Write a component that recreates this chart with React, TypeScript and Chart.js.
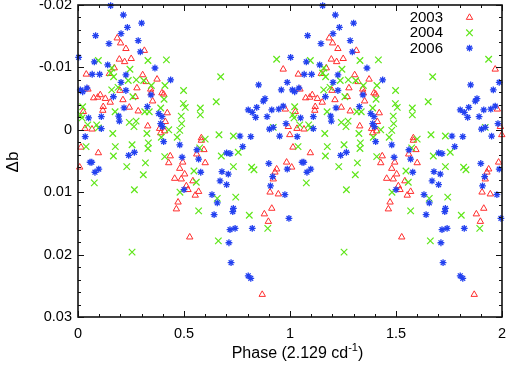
import React, { useEffect, useRef } from 'react';
import { Chart, registerables } from 'chart.js';
import { drawPoint } from 'chart.js/helpers';

Chart.register(...registerables);

// ---- data (phase in [0,1), Δb in mag) ----
const seriesLabels = ['2003', '2004', '2006'];
const seriesColors = ['rgb(255,45,45)', 'rgb(95,230,25)', 'rgb(35,65,240)'];
const seriesStyles = ['triangle', 'crossRot', 'star'];
const seriesRadius = [3.7, 4.6, 3.4];
const seriesLineWidth = [1, 1.2, 1.3];

const points2003: [number, number][] = [
  [0.185, -0.0147], [0.201, -0.0139], [0.226, -0.0130], [0.313, -0.0127], [0.195, -0.0113],
  [0.220, -0.0109], [0.251, -0.0114], [0.171, -0.0099], [0.148, -0.0090], [0.039, -0.0089],
  [0.305, -0.0088], [0.321, -0.0077], [0.278, -0.0067], [0.047, -0.0065], [0.105, -0.0056],
  [0.093, -0.0052], [0.074, -0.0051], [0.129, -0.0050], [0.198, -0.0063], [0.270, -0.0053],
  [0.212, -0.0048], [0.152, -0.0044], [0.119, -0.0037], [0.117, -0.0031], [0.242, -0.0036],
  [0.284, -0.0030], [0.329, -0.0006], [0.066, -0.0001], [0.033, -0.0002], [0.096, 0.0037],
  [0.014, 0.0028], [0.008, 0.0060], [0.025, -0.0029],
  [0.373, -0.0081], [0.343, -0.0065], [0.346, -0.0059], [0.396, -0.0059], [0.404, -0.0057],
  [0.352, -0.0046], [0.421, -0.0027], [0.412, -0.0013], [0.385, -0.0002], [0.409, 0.0002],
  [0.390, 0.0005], [0.582, 0.0013], [0.582, 0.0017], [0.594, 0.0032], [0.560, 0.0039],
  [0.435, 0.0042], [0.428, 0.0053], [0.494, 0.0052], [0.600, 0.0053],
  [0.968, -0.0097], [0.978, -0.0033], [0.992, -0.0005], [0.999, 0.0008], [0.984, 0.0052],
  [0.480, 0.0062], [0.503, 0.0071], [0.456, 0.0078], [0.487, 0.0079], [0.511, 0.0090],
  [0.519, 0.0096], [0.542, 0.0082], [0.569, 0.0099], [0.553, 0.0105], [0.472, 0.0116],
  [0.464, 0.0127], [0.527, 0.0172],
  [0.937, 0.0063], [0.929, 0.0068], [0.921, 0.0079], [0.906, 0.0100], [0.945, 0.0103],
  [0.914, 0.0126], [0.879, 0.0135], [0.898, 0.0147], [0.869, 0.0264],
];

const points2004: [number, number][] = [
  [0.096, -0.0111], [0.330, -0.0111], [0.160, -0.0099], [0.245, -0.0097], [0.168, -0.0085],
  [0.154, -0.0091], [0.237, -0.0079], [0.275, -0.0080], [0.310, -0.0079], [0.346, -0.0071],
  [0.159, -0.0064], [0.189, -0.0068], [0.259, -0.0053], [0.022, -0.0037], [0.013, -0.0024],
  [0.175, -0.0029], [0.315, -0.0029], [0.336, -0.0029], [0.019, -0.0019], [0.242, -0.0012],
  [0.274, -0.0014], [0.264, -0.0005], [0.088, -0.0008], [0.046, -0.0008], [0.096, -0.0003],
  [0.164, 0.0006], [0.325, 0.0006], [0.038, 0.0027], [0.176, 0.0027], [0.255, 0.0024],
  [0.332, 0.0021], [0.330, 0.0030], [0.167, 0.0042], [0.318, 0.0053], [0.230, 0.0059],
  [0.308, 0.0072],
  [0.417, -0.0112], [0.673, -0.0085], [0.410, -0.0071], [0.498, -0.0063], [0.406, -0.0049],
  [0.497, -0.0042], [0.506, -0.0036], [0.652, -0.0045], [0.577, -0.0035], [0.577, -0.0024],
  [0.390, -0.0035], [0.487, -0.0022], [0.489, -0.0010], [0.428, 0.0000], [0.480, 0.0001],
  [0.468, 0.0012], [0.393, 0.0012], [0.665, 0.0008], [0.600, 0.0015], [0.574, 0.0029],
  [0.409, 0.0043], [0.676, 0.0042],
  [0.937, -0.0113], [0.921, -0.0004], [0.733, 0.0010], [0.756, 0.0036],
  [0.077, 0.0085], [0.266, 0.0096], [0.255, 0.0196],
  [0.547, 0.0066], [0.558, 0.0084], [0.481, 0.0100], [0.569, 0.0130], [0.662, 0.0178],
  [0.657, 0.0110],
  [0.733, 0.0059], [0.819, 0.0060], [0.830, 0.0064], [0.744, 0.0108], [0.808, 0.0137],
  [0.895, 0.0158],
];

const points2006: [number, number][] = [
  [0.154, -0.0199], [0.214, -0.0184], [0.233, -0.0164], [0.300, -0.0171], [0.083, -0.0151],
  [0.203, -0.0154], [0.146, -0.0138], [0.284, -0.0143], [0.294, -0.0125], [0.003, -0.0116],
  [0.077, -0.0109], [0.140, -0.0104], [0.067, -0.0089], [0.102, -0.0089], [0.226, -0.0088],
  [0.203, -0.0076], [0.011, -0.0064], [0.022, -0.0061], [0.042, -0.0067], [0.226, -0.0063],
  [0.167, -0.0053], [0.344, -0.0056], [0.217, -0.0035], [0.327, -0.0037], [0.110, -0.0021],
  [0.050, -0.0019], [0.192, -0.0022], [0.195, -0.0014], [0.110, -0.0002], [0.034, 0.0011],
  [0.266, 0.0036], [0.239, 0.0041], [0.057, 0.0052], [0.065, 0.0052],
  [0.363, -0.0099], [0.437, -0.0080], [0.381, -0.0026], [0.396, -0.0021], [0.390, -0.0010],
  [0.398, -0.0005], [0.404, 0.0019], [0.480, 0.0024], [0.561, 0.0032], [0.569, 0.0047],
  [0.491, 0.0044],
  [0.852, -0.0072], [0.987, -0.0076], [0.959, -0.0064], [0.882, -0.0050], [0.874, -0.0046],
  [0.843, -0.0036], [0.968, -0.0038], [0.803, -0.0032], [0.822, -0.0028], [0.914, -0.0032],
  [0.947, -0.0033], [0.838, -0.0020], [0.892, -0.0021], [0.981, -0.0010], [0.903, -0.0001],
  [0.921, -0.0004], [0.764, 0.0010], [0.815, 0.0011], [0.951, 0.0010], [0.777, 0.0027],
  [0.701, 0.0037], [0.717, 0.0038], [0.900, 0.0054],
  [0.080, 0.0068], [0.098, 0.0063],
  [0.579, 0.0068], [0.679, 0.0067], [0.670, 0.0082], [0.500, 0.0096], [0.632, 0.0104],
  [0.657, 0.0117], [0.642, 0.0136],
  [0.709, 0.0071], [0.701, 0.0088], [0.987, 0.0063], [0.918, 0.0075], [0.908, 0.0090],
  [0.976, 0.0104], [0.733, 0.0126], [0.730, 0.0131], [0.741, 0.0158], [0.717, 0.0160],
  [0.822, 0.0158], [0.995, 0.0142], [0.712, 0.0181], [0.722, 0.0213], [0.803, 0.0234],
  [0.815, 0.0238],
];

const xTickLabels = ['0', '0.5', '1', '1.5', '2'];
const yTickLabels = ['-0.02', '-0.01', '0', '0.01', '0.02', '0.03'];
const xTitle = ['Phase (2.129 cd', '-1', ')'];
const yTitle = 'Δb';

const FONT = '"Liberation Sans", Arial, Helvetica, sans-serif';
// canvas is larger than the page and shifted up, so that Chart.js' automatic
// label padding never moves the plot frame
const OY = 30;
const CW = 540;
const CH = 366 + OY;

// phase-folded plot: each cycle shown twice (phase and phase + 1)
function folded(pts: [number, number][]) {
  const out: { x: number; y: number }[] = [];
  for (const [p, v] of pts) {
    out.push({ x: p, y: v });
    out.push({ x: p + 1, y: v });
  }
  return out;
}

const framePlugin = {
  id: 'frameTicks',
  afterDatasetsDraw(chart: any) {
    const { ctx, chartArea: a, scales } = chart;
    const xs = scales.x;
    const ys = scales.y;
    ctx.save();
    ctx.strokeStyle = '#111';
    ctx.lineWidth = 1;
    ctx.beginPath();
    for (let i = 0; i <= 20; i++) {
      const px = Math.round(xs.getPixelForValue(i * 0.1)) + 0.5;
      const len = i % 5 === 0 ? 6 : 3;
      ctx.moveTo(px, a.bottom);
      ctx.lineTo(px, a.bottom - len);
      ctx.moveTo(px, a.top);
      ctx.lineTo(px, a.top + len);
    }
    for (let i = 0; i <= 25; i++) {
      const py = Math.round(ys.getPixelForValue(-0.02 + i * 0.002)) + 0.5;
      const len = i % 5 === 0 ? 6 : 3;
      ctx.moveTo(a.left, py);
      ctx.lineTo(a.left + len, py);
      ctx.moveTo(a.right, py);
      ctx.lineTo(a.right - len, py);
    }
    ctx.stroke();
    ctx.lineWidth = 1.6;
    ctx.strokeRect(a.left, a.top, a.right - a.left, a.bottom - a.top);

    // legend (markers on the right of the labels)
    chart.data.datasets.forEach((ds: any, i: number) => {
      const y = OY + 17.5 + 15.3 * i;
      ctx.fillStyle = '#000';
      ctx.font = `15px ${FONT}`;
      ctx.textAlign = 'right';
      ctx.textBaseline = 'middle';
      ctx.fillText(ds.label, 443, y + 0.5);
      ctx.strokeStyle = ds.borderColor;
      ctx.fillStyle = 'rgba(0,0,0,0)';
      ctx.lineWidth = ds.borderWidth;
      drawPoint(ctx, { pointStyle: ds.pointStyle, radius: ds.pointRadius, borderWidth: ds.borderWidth, rotation: 0 } as any, 469.5, y);
    });

    // axis titles
    ctx.fillStyle = '#000';
    ctx.textBaseline = 'middle';
    ctx.textAlign = 'left';
    ctx.font = `16px ${FONT}`;
    const w0 = ctx.measureText(xTitle[0]).width;
    ctx.font = `11px ${FONT}`;
    const w1 = ctx.measureText(xTitle[1]).width;
    ctx.font = `16px ${FONT}`;
    const w2 = ctx.measureText(xTitle[2]).width;
    const total = w0 + w1 + w2;
    const x0 = 297.5 - total / 2;
    const ty = OY + 354;
    ctx.fillText(xTitle[0], x0, ty);
    ctx.font = `11px ${FONT}`;
    ctx.fillText(xTitle[1], x0 + w0, ty - 6);
    ctx.font = `16px ${FONT}`;
    ctx.fillText(xTitle[2], x0 + w0 + w1, ty);

    ctx.translate(13, OY + 162);
    ctx.rotate(-Math.PI / 2);
    ctx.textAlign = 'center';
    ctx.font = `17px ${FONT}`;
    ctx.fillText(yTitle, 0, 0);
    ctx.restore();
  },
};

function labelFor(labels: string[], value: number) {
  const l = labels.find((s) => Math.abs(parseFloat(s) - value) < 1e-9);
  return l === undefined ? '' : l;
}

export default function App() {
  const ref = useRef<HTMLCanvasElement | null>(null);

  useEffect(() => {
    if (!ref.current) return;
    const all = [points2003, points2004, points2006];
    const chart = new Chart(ref.current, {
      type: 'scatter',
      data: {
        datasets: all.map((pts, i) => ({
          label: seriesLabels[i],
          data: folded(pts),
          pointStyle: seriesStyles[i] as any,
          pointRadius: seriesRadius[i],
          borderColor: seriesColors[i],
          backgroundColor: 'rgba(0,0,0,0)',
          borderWidth: seriesLineWidth[i],
          order: 3 - i,
          clip: false as any,
        })),
      },
      options: {
        animation: false,
        responsive: false,
        devicePixelRatio: 1,
        events: [],
        layout: { padding: { left: 0, right: CW - 502, top: OY + 5, bottom: 0 } },
        plugins: { legend: { display: false }, tooltip: { enabled: false } },
        scales: {
          x: {
            type: 'linear',
            min: 0,
            max: 2,
            grid: { display: false, drawTicks: false },
            border: { display: false },
            ticks: {
              stepSize: 0.5,
              padding: 8,
              color: '#000',
              font: { family: FONT, size: 14.5 },
              maxRotation: 0,
              callback: (v: any) => labelFor(xTickLabels, Number(v)),
            },
            afterFit: (s: any) => {
              s.height = 49;
            },
          },
          y: {
            type: 'linear',
            min: -0.02,
            max: 0.03,
            reverse: true,
            grid: { display: false, drawTicks: false },
            border: { display: false },
            ticks: {
              stepSize: 0.01,
              padding: 6,
              color: '#000',
              font: { family: FONT, size: 14.5 },
              callback: (v: any) => labelFor(yTickLabels, Number(v)),
            },
            afterFit: (s: any) => {
              s.width = 78;
            },
          },
        },
      },
      plugins: [framePlugin],
    });
    return () => chart.destroy();
  }, []);

  return (
    <div style={{ position: 'fixed', left: 0, top: 0, width: 508, height: 366, overflow: 'hidden', background: '#fff' }}>
      <canvas
        ref={ref}
        width={CW}
        height={CH}
        style={{ position: 'absolute', left: 0, top: -OY, width: CW, height: CH, display: 'block' }}
      />
    </div>
  );
}
